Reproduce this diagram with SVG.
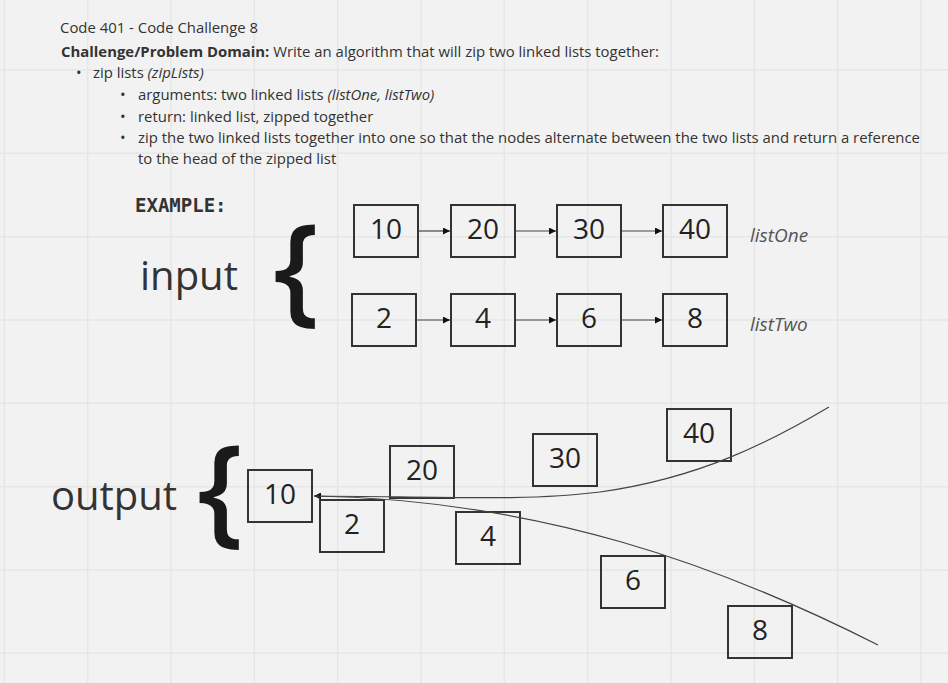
<svg xmlns="http://www.w3.org/2000/svg" width="948" height="683" viewBox="0 0 948 683">
<defs>
<style>
.hd{font-family:"Open Sans","Liberation Sans",sans-serif;font-size:14.9px;fill:#333}
.b{font-weight:bold}
.i{font-style:italic}
.box rect{fill:none;stroke:#333;stroke-width:2}
.box text{font-family:"Open Sans","Liberation Sans",sans-serif;font-size:28px;fill:#222;text-anchor:middle}
.big{font-family:"Open Sans","Liberation Sans",sans-serif;font-size:40px;fill:#333}
.brace{font-family:"Open Sans","Liberation Sans",sans-serif;font-size:120px;font-weight:600;fill:#1a1a1a}
.lbl{font-family:"Open Sans","Liberation Sans",sans-serif;font-size:19px;font-style:italic;fill:#555}
.conn line,.conn path{fill:none;stroke:#444;stroke-width:1.2}
.grid line{stroke:#e6e6e6;stroke-width:1.5}
</style>
<marker id="ah" viewBox="0 0 10 10" refX="10" refY="5" markerWidth="11" markerHeight="7" markerUnits="userSpaceOnUse" orient="auto">
<path d="M0,0 L10,5 L0,10 z" fill="#111"/>
</marker>
</defs>
<rect width="948" height="683" fill="#f2f2f2"/>
<g class="grid">
<line x1="4.3" y1="0" x2="4.3" y2="683"/><line x1="87.7" y1="0" x2="87.7" y2="683"/><line x1="171" y1="0" x2="171" y2="683"/><line x1="254.3" y1="0" x2="254.3" y2="683"/><line x1="337.7" y1="0" x2="337.7" y2="683"/><line x1="421" y1="0" x2="421" y2="683"/><line x1="504.3" y1="0" x2="504.3" y2="683"/><line x1="587.7" y1="0" x2="587.7" y2="683"/><line x1="671" y1="0" x2="671" y2="683"/><line x1="754.3" y1="0" x2="754.3" y2="683"/><line x1="837.7" y1="0" x2="837.7" y2="683"/><line x1="921" y1="0" x2="921" y2="683"/>
<line x1="0" y1="70" x2="948" y2="70"/><line x1="0" y1="153.3" x2="948" y2="153.3"/><line x1="0" y1="236.7" x2="948" y2="236.7"/><line x1="0" y1="320" x2="948" y2="320"/><line x1="0" y1="403.3" x2="948" y2="403.3"/><line x1="0" y1="486.7" x2="948" y2="486.7"/><line x1="0" y1="570" x2="948" y2="570"/><line x1="0" y1="653.3" x2="948" y2="653.3"/>
</g>
<g id="header">
<text class="hd" x="60" y="33">Code 401 - Code Challenge 8</text>
<text class="hd" x="61" y="57"><tspan class="b">Challenge/Problem Domain:</tspan> Write an algorithm that will zip two linked lists together:</text>
<text class="hd" x="76" y="78">•</text>
<text class="hd" x="93" y="78">zip lists <tspan class="i">(zipLists)</tspan></text>
<text class="hd" x="120" y="100">•</text>
<text class="hd" x="138" y="100">arguments: two linked lists <tspan class="i">(listOne, listTwo)</tspan></text>
<text class="hd" x="120" y="122">•</text>
<text class="hd" x="138" y="122">return: linked list, zipped together</text>
<text class="hd" x="120" y="143">•</text>
<text class="hd" x="138" y="143">zip the two linked lists together into one so that the nodes alternate between the two lists and return a reference</text>
<text class="hd" x="138" y="164">to the head of the zipped list</text>
</g>
<g id="example">
<text x="135" y="212" font-family="DejaVu Sans Mono,monospace" font-weight="bold" font-size="19" fill="#333">EXAMPLE:</text>
</g>
<g id="input-label">
<text class="big" x="140" y="290">input</text>
<text class="brace" x="273" y="310">{</text>
</g>
<g id="output-label">
<text class="big" x="51" y="510">output</text>
<text class="brace" x="197" y="531">{</text>
</g>
<g id="in10" class="box"><rect x="354" y="205" width="64" height="52"/><text x="386" y="239">10</text></g>
<g id="in20" class="box"><rect x="451" y="205" width="64" height="52"/><text x="483" y="239">20</text></g>
<g id="in30" class="box"><rect x="557" y="205" width="64" height="52"/><text x="589" y="239">30</text></g>
<g id="in40" class="box"><rect x="663" y="205" width="64" height="52"/><text x="695" y="239">40</text></g>
<g id="in2" class="box"><rect x="352" y="294" width="64" height="52"/><text x="384" y="328">2</text></g>
<g id="in4" class="box"><rect x="451" y="294" width="64" height="52"/><text x="483" y="328">4</text></g>
<g id="in6" class="box"><rect x="557" y="294" width="64" height="52"/><text x="589" y="328">6</text></g>
<g id="in8" class="box"><rect x="663" y="294" width="64" height="52"/><text x="695" y="328">8</text></g>
<g id="listOne"><text class="lbl" x="750" y="242">listOne</text></g>
<g id="listTwo"><text class="lbl" x="750" y="331">listTwo</text></g>
<g id="out10" class="box"><rect x="248" y="470" width="64" height="52"/><text x="280" y="504">10</text></g>
<g id="out2" class="box"><rect x="320" y="500" width="64" height="52"/><text x="352" y="534">2</text></g>
<g id="out20" class="box"><rect x="390" y="446" width="64" height="52"/><text x="422" y="480">20</text></g>
<g id="out4" class="box"><rect x="456" y="512" width="64" height="52"/><text x="488" y="546">4</text></g>
<g id="out30" class="box"><rect x="533" y="434" width="64" height="52"/><text x="565" y="468">30</text></g>
<g id="out40" class="box"><rect x="667" y="409" width="64" height="52"/><text x="699" y="443">40</text></g>
<g id="out6" class="box"><rect x="601" y="556" width="64" height="52"/><text x="633" y="590">6</text></g>
<g id="out8" class="box"><rect x="728" y="606" width="64" height="52"/><text x="760" y="640">8</text></g>
<g id="connectors" class="conn">
<line x1="418" y1="231" x2="450" y2="231" marker-end="url(#ah)"/>
<line x1="515" y1="231" x2="556" y2="231" marker-end="url(#ah)"/>
<line x1="621" y1="231" x2="662" y2="231" marker-end="url(#ah)"/>
<line x1="416" y1="320" x2="450" y2="320" marker-end="url(#ah)"/>
<line x1="515" y1="320" x2="556" y2="320" marker-end="url(#ah)"/>
<line x1="621" y1="320" x2="662" y2="320" marker-end="url(#ah)"/>
<path d="M829,407 C770,442 700,478 600,492 C530,501 450,497 314,496" marker-end="url(#ah)"/>
<path d="M878,645 C720,565 540,500 314,496"/>
</g>
</svg>
